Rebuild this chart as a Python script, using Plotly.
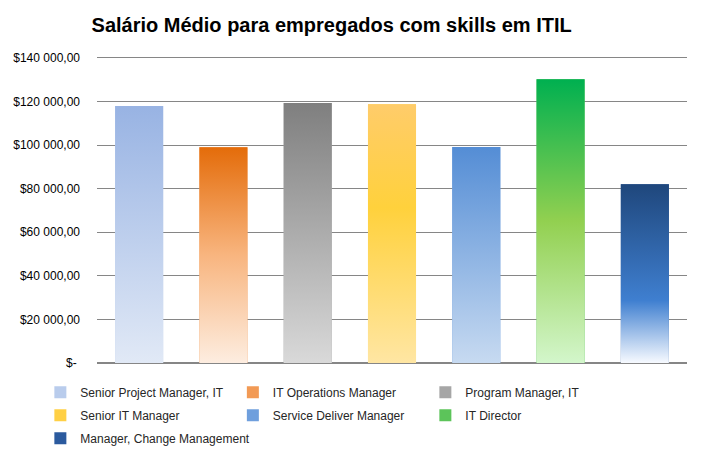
import plotly.graph_objects as go

# dados
cargos = ['Senior Project Manager, IT', 'IT Operations Manager', 'Program Manager, IT',
          'Senior IT Manager', 'Service Deliver Manager', 'IT Director',
          'Manager, Change Management']
salarios = [118000, 99000, 119300, 118800, 99200, 130200, 82000]
tick_vals = [0, 20000, 40000, 60000, 80000, 100000, 120000, 140000]
tick_text = ['$-\u00a0', '$20 000,00', '$40 000,00', '$60 000,00', '$80 000,00',
             '$100 000,00', '$120 000,00', '$140 000,00']

# gradiente de cada barra (0 = base, 1 = topo)
gradientes = [
    [[0, '#E1E9F6'], [1, '#98B3E3']],
    [[0, '#FDEDE0'], [0.5, '#F8B57F'], [1, '#E46C0A']],
    [[0, '#D9D9D9'], [1, '#7F7F7F']],
    [[0, '#FFE6A3'], [0.6, '#FFD13C'], [1, '#FFCC6A']],
    [[0, '#C7DAF1'], [1, '#548DD5']],
    [[0, '#D3F6CB'], [0.5, '#92D050'], [1, '#00B050']],
    [[0, '#F7FAFF'], [0.35, '#3F7FD0'], [1, '#1F477C']],
]
cor_legenda = ['#B9CCEC', '#F29A55', '#A6A6A6', '#FFD045', '#6F9FDD', '#5CC45A', '#2B5A9E']

largura = 0.57
fig = go.Figure()

for i, (nome, valor) in enumerate(zip(cargos, salarios)):
    # barra com a legenda
    fig.add_trace(go.Bar(
        x=[i], y=[valor], width=largura, name=nome, legendgroup=nome,
        marker=dict(color=cor_legenda[i], line=dict(width=0)),
        hovertemplate='%{y:$,.2f}<extra>' + nome + '</extra>'
    ))
    # preenchimento em gradiente por cima
    meio = largura / 2
    fig.add_trace(go.Scatter(
        x=[i - meio, i - meio, i + meio, i + meio, i - meio],
        y=[0, valor, valor, 0, 0],
        mode='lines', line=dict(width=0), fill='toself',
        fillgradient=dict(type='vertical', colorscale=gradientes[i]),
        legendgroup=nome, showlegend=False, hoverinfo='skip'
    ))

# a página tem margem de 8px no body, por isso a figura é 8px menor
fig.update_layout(
    title=dict(
        text='<b>Salário Médio para empregados com skills em ITIL</b>',
        font=dict(size=20, family='Liberation Sans', color='black'),
        x=0.467, xanchor='center', y=0.962, yanchor='middle'
    ),
    barmode='overlay',
    xaxis=dict(range=[-0.5, 6.5], showticklabels=False, showgrid=False,
               zeroline=False, ticks='', showline=True, linecolor='#868686',
               linewidth=1, mirror=True),
    yaxis=dict(
        range=[0, 140000], tickvals=tick_vals, ticktext=tick_text,
        showgrid=True, gridcolor='#868686', gridwidth=1,
        zeroline=True, zerolinecolor='#868686', zerolinewidth=2,
        tickfont=dict(size=12, family='Liberation Sans', color='black'),
        ticks='', ticklabelstandoff=16, automargin=False
    ),
    legend=dict(
        orientation='h',
        x=-0.096, y=-0.048, xanchor='left', yanchor='top',
        entrywidth=147.5, tracegroupgap=4,
        font=dict(size=12, family='Liberation Sans', color='#262626'),
        itemwidth=30
    ),
    plot_bgcolor='white',
    paper_bgcolor='white',
    width=693, height=452,
    margin=dict(l=89, r=14, t=50, b=97, autoexpand=False)
)

fig.write_html('out.html')
